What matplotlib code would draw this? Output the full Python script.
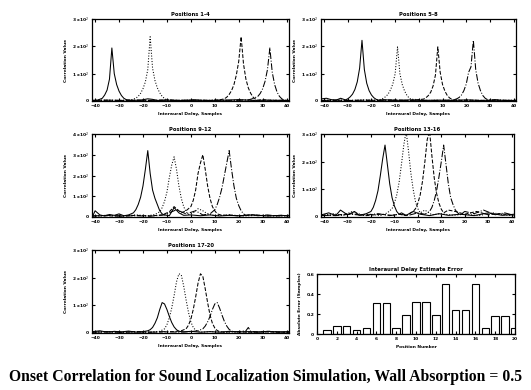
import numpy as np
import matplotlib.pyplot as plt

# ---- correlation curves (y in units of 10^2) ----
# Positions 1-4
p1_solid = ([-41, -39, -37, -36, -35, -34, -33, -32, -31, -30, -29, -28, -27, -25, -21, -18, -16, -14, -10, -4, 2, 8, 14, 20, 26, 32, 38, 41],
            [0.02, 0.03, 0.1, 0.22, 0.4, 0.8, 1.94, 1.0, 0.6, 0.36, 0.2, 0.1, 0.05, 0.02, 0.03, 0.08, 0.06, 0.02, 0.03, 0.02, 0.03, 0.02, 0.03, 0.05, 0.02, 0.03, 0.02, 0.02])
p1_dot = ([-41, -36, -30, -25, -23, -22, -21, -20, -19, -18, -17, -16, -15, -14, -13, -12, -11, -10, -7, -2, 4, 10, 16, 22, 28, 34, 41],
          [0.02, 0.03, 0.02, 0.04, 0.1, 0.17, 0.28, 0.45, 0.7, 1.15, 2.35, 1.2, 0.75, 0.48, 0.3, 0.17, 0.09, 0.04, 0.02, 0.03, 0.02, 0.03, 0.02, 0.04, 0.02, 0.03, 0.02])
p1_dash = ([-41, -34, -28, -22, -16, -10, -4, 2, 8, 12, 14, 15, 16, 17, 18, 19, 20, 21, 22, 23, 24, 25, 26, 27, 28, 30, 34, 38, 41],
           [0.02, 0.03, 0.02, 0.03, 0.02, 0.04, 0.02, 0.03, 0.02, 0.04, 0.08, 0.14, 0.24, 0.38, 0.6, 0.95, 1.45, 2.35, 1.35, 0.8, 0.48, 0.28, 0.14, 0.07, 0.03, 0.05, 0.02, 0.03, 0.02])
p1_dd = ([-41, -35, -29, -23, -17, -11, -5, 1, 7, 13, 19, 24, 26, 28, 29, 30, 31, 32, 33, 34, 35, 36, 37, 38, 39, 41],
         [0.02, 0.03, 0.02, 0.03, 0.02, 0.03, 0.02, 0.04, 0.02, 0.03, 0.02, 0.04, 0.09, 0.17, 0.28, 0.45, 0.72, 1.15, 1.94, 1.05, 0.6, 0.33, 0.17, 0.08, 0.03, 0.02])

# Positions 5-8
p2_solid = ([-41, -39, -37, -35, -33, -31, -30, -29, -28, -27, -26, -25, -24, -23, -22, -21, -20, -19, -18, -17, -15, -10, -4, 2, 8, 14, 20, 26, 32, 38, 41],
            [0.08, 0.1, 0.05, 0.03, 0.1, 0.04, 0.08, 0.15, 0.25, 0.42, 0.7, 1.2, 2.22, 1.15, 0.65, 0.38, 0.22, 0.12, 0.06, 0.03, 0.05, 0.02, 0.04, 0.02, 0.03, 0.02, 0.04, 0.02, 0.03, 0.02, 0.02])
p2_dot = ([-41, -35, -29, -23, -18, -16, -15, -14, -13, -12, -11, -10, -9, -8, -7, -6, -5, -4, -3, -2, -1, 2, 8, 14, 20, 26, 32, 38, 41],
          [0.02, 0.03, 0.02, 0.04, 0.03, 0.06, 0.1, 0.16, 0.25, 0.4, 0.62, 1.0, 1.98, 1.0, 0.6, 0.36, 0.2, 0.1, 0.05, 0.08, 0.03, 0.02, 0.03, 0.02, 0.03, 0.02, 0.03, 0.02, 0.02])
p2_dash = ([-41, -35, -29, -23, -17, -11, -5, 0, 2, 3, 4, 5, 6, 7, 8, 9, 10, 11, 12, 13, 14, 15, 16, 18, 22, 28, 34, 41],
           [0.02, 0.03, 0.02, 0.03, 0.02, 0.04, 0.02, 0.05, 0.07, 0.12, 0.2, 0.32, 0.55, 0.95, 1.98, 1.05, 0.6, 0.36, 0.2, 0.11, 0.06, 0.03, 0.05, 0.02, 0.03, 0.02, 0.03, 0.02])
p2_dd = ([-41, -35, -29, -23, -17, -11, -5, 1, 7, 12, 15, 16, 17, 18, 19, 20, 21, 22, 23, 24, 25, 26, 27, 28, 29, 30, 32, 36, 41],
         [0.02, 0.03, 0.02, 0.03, 0.02, 0.03, 0.02, 0.03, 0.02, 0.03, 0.05, 0.08, 0.13, 0.22, 0.38, 0.62, 1.05, 1.25, 2.22, 1.15, 0.65, 0.38, 0.2, 0.1, 0.05, 0.03, 0.05, 0.02, 0.03])

# Positions 9-12
p3_solid = ([-41, -40, -38, -36, -34, -32, -30, -28, -26, -24, -23, -22, -21, -20, -19, -18, -17, -16, -15, -14, -13, -12, -11, -9, -7, -5, -3, 0, 4, 8, 12, 16, 20, 26, 32, 38, 41],
            [0.05, 0.3, 0.1, 0.05, 0.12, 0.08, 0.15, 0.06, 0.1, 0.2, 0.35, 0.6, 0.95, 1.5, 2.3, 3.2, 2.1, 1.3, 0.9, 0.6, 0.3, 0.15, 0.1, 0.06, 0.45, 0.2, 0.08, 0.1, 0.06, 0.1, 0.05, 0.08, 0.06, 0.1, 0.05, 0.08, 0.05])
p3_dot = ([-41, -35, -29, -23, -18, -15, -13, -12, -11, -10, -9, -8, -7, -6, -5, -4, -3, -2, -1, 1, 3, 5, 7, 10, 16, 22, 28, 34, 41],
          [0.04, 0.08, 0.05, 0.1, 0.06, 0.12, 0.25, 0.45, 0.75, 1.2, 1.9, 2.5, 2.9, 2.3, 1.5, 0.9, 0.5, 0.25, 0.12, 0.2, 0.4, 0.3, 0.15, 0.06, 0.1, 0.05, 0.08, 0.05, 0.05])
p3_dash = ([-41, -35, -29, -23, -17, -12, -9, -7, -4, -2, 0, 1, 2, 3, 4, 5, 6, 7, 8, 9, 10, 11, 13, 16, 20, 26, 32, 38, 41],
           [0.05, 0.06, 0.04, 0.08, 0.05, 0.1, 0.25, 0.5, 0.2, 0.3, 0.5, 0.8, 1.3, 2.1, 2.6, 3.0, 2.3, 1.5, 0.9, 0.5, 0.3, 0.15, 0.08, 0.1, 0.05, 0.1, 0.06, 0.08, 0.05])
p3_dd = ([-41, -35, -29, -23, -17, -11, -6, -2, 2, 5, 8, 9, 10, 11, 12, 13, 14, 15, 16, 17, 18, 19, 20, 21, 22, 23, 25, 28, 32, 36, 41],
         [0.05, 0.08, 0.05, 0.06, 0.04, 0.1, 0.35, 0.15, 0.3, 0.1, 0.15, 0.25, 0.35, 0.6, 0.95, 1.4, 2.0, 2.6, 3.2, 2.3, 1.5, 0.9, 0.55, 0.3, 0.15, 0.08, 0.12, 0.06, 0.1, 0.05, 0.08])

# Positions 13-16
p4_solid = ([-41, -38, -35, -33, -30, -27, -25, -22, -20, -19, -18, -17, -16, -15, -14, -13, -12, -11, -10, -9, -8, -7, -5, -2, 1, 5, 9, 13, 18, 24, 30, 36, 41],
            [0.08, 0.15, 0.05, 0.25, 0.08, 0.2, 0.06, 0.12, 0.2, 0.35, 0.6, 0.95, 1.5, 2.1, 2.6, 1.9, 1.2, 0.7, 0.4, 0.2, 0.1, 0.15, 0.06, 0.2, 0.1, 0.05, 0.12, 0.06, 0.1, 0.05, 0.15, 0.06, 0.1])
p4_dot = ([-41, -36, -32, -28, -24, -20, -16, -13, -11, -10, -9, -8, -7, -6, -5, -4, -3, -2, -1, 0, 1, 3, 6, 10, 15, 20, 26, 32, 38, 41],
          [0.06, 0.12, 0.05, 0.2, 0.08, 0.1, 0.05, 0.15, 0.3, 0.5, 0.8, 1.25, 1.9, 2.6, 3.1, 2.4, 1.6, 1.0, 0.55, 0.3, 0.15, 0.25, 0.08, 0.12, 0.06, 0.1, 0.05, 0.15, 0.06, 0.05])
p4_dash = ([-41, -34, -28, -22, -16, -11, -8, -5, -2, -1, 0, 1, 2, 3, 4, 5, 6, 7, 8, 9, 10, 11, 13, 16, 20, 25, 30, 35, 41],
           [0.05, 0.08, 0.12, 0.05, 0.1, 0.06, 0.1, 0.05, 0.2, 0.3, 0.5, 0.8, 1.3, 2.0, 2.8, 3.1, 2.2, 1.4, 0.85, 0.5, 0.28, 0.15, 0.25, 0.2, 0.1, 0.2, 0.08, 0.12, 0.06])
p4_dd = ([-41, -35, -29, -23, -17, -12, -8, -4, 0, 3, 5, 6, 7, 8, 9, 10, 11, 12, 13, 14, 15, 16, 17, 18, 20, 24, 28, 33, 37, 41],
         [0.06, 0.05, 0.1, 0.06, 0.12, 0.05, 0.1, 0.06, 0.15, 0.1, 0.2, 0.35, 0.6, 0.95, 1.45, 2.0, 2.6, 1.9, 1.2, 0.7, 0.45, 0.25, 0.15, 0.08, 0.2, 0.12, 0.25, 0.08, 0.15, 0.06])

# Positions 17-20
p5_solid = ([-41, -38, -35, -32, -29, -26, -23, -20, -18, -17, -16, -15, -14, -13, -12, -11, -10, -9, -8, -7, -6, -5, -3, 0, 4, 8, 12, 16, 20, 24, 28, 32, 36, 41],
            [0.05, 0.08, 0.03, 0.06, 0.04, 0.07, 0.03, 0.05, 0.08, 0.12, 0.2, 0.35, 0.55, 0.85, 1.1, 1.05, 0.85, 0.6, 0.38, 0.22, 0.12, 0.06, 0.04, 0.06, 0.03, 0.05, 0.03, 0.06, 0.04, 0.05, 0.03, 0.06, 0.04, 0.05])
p5_dot = ([-41, -35, -29, -23, -17, -13, -11, -10, -9, -8, -7, -6, -5, -4, -3, -2, -1, 0, 1, 2, 3, 5, 8, 14, 20, 26, 32, 38, 41],
          [0.03, 0.05, 0.03, 0.04, 0.03, 0.06, 0.15, 0.3, 0.55, 0.9, 1.35, 1.85, 2.14, 2.1, 1.7, 1.2, 0.75, 0.4, 0.2, 0.1, 0.05, 0.03, 0.05, 0.03, 0.04, 0.03, 0.05, 0.03, 0.03])
p5_dash = ([-41, -35, -29, -23, -17, -11, -7, -4, -2, -1, 0, 1, 2, 3, 4, 5, 6, 7, 8, 9, 10, 11, 12, 14, 18, 24, 30, 36, 41],
           [0.03, 0.04, 0.03, 0.05, 0.03, 0.04, 0.05, 0.08, 0.15, 0.28, 0.5, 0.85, 1.3, 1.8, 2.14, 2.05, 1.6, 1.1, 0.65, 0.35, 0.18, 0.09, 0.05, 0.03, 0.05, 0.03, 0.04, 0.03, 0.03])
p5_dd = ([-41, -35, -29, -23, -17, -11, -5, 0, 3, 5, 6, 7, 8, 9, 10, 11, 12, 13, 14, 15, 16, 17, 18, 20, 23, 24, 25, 28, 33, 38, 41],
         [0.03, 0.05, 0.03, 0.04, 0.03, 0.05, 0.03, 0.05, 0.08, 0.15, 0.25, 0.4, 0.6, 0.85, 1.05, 1.1, 0.9, 0.65, 0.42, 0.25, 0.13, 0.07, 0.04, 0.05, 0.08, 0.2, 0.06, 0.04, 0.06, 0.03, 0.03])

panel_titles = ['Positions 1-4', 'Positions 5-8', 'Positions 9-12', 'Positions 13-16', 'Positions 17-20']
panel_curves = [[p1_solid, p1_dot, p1_dash, p1_dd],
                [p2_solid, p2_dot, p2_dash, p2_dd],
                [p3_solid, p3_dot, p3_dash, p3_dd],
                [p4_solid, p4_dot, p4_dash, p4_dd],
                [p5_solid, p5_dot, p5_dash, p5_dd]]
panel_ymax = [3, 3, 4, 3, 3]
lag_ticks = [-40, -30, -20, -10, 0, 10, 20, 30, 40]

# ---- error bars ----
positions = list(range(1, 21))
abs_error = [0.037, 0.077, 0.077, 0.037, 0.06, 0.307, 0.307, 0.06, 0.187, 0.317,
             0.317, 0.187, 0.497, 0.24, 0.24, 0.497, 0.06, 0.177, 0.177, 0.06]

W, H = 531, 390
fig = plt.figure(figsize=(W / 100, H / 100), dpi=100)
plt.rcParams['font.family'] = 'DejaVu Sans'


def px_axes(l, t, r, b):
    return fig.add_axes([l / W, 1 - b / H, (r - l) / W, (b - t) / H])


def style(ax):
    for s in ax.spines.values():
        s.set_linewidth(0.9)
    ax.tick_params(direction='in', length=2.5, width=0.8, labelsize=3.2,
                   pad=2, top=True, right=True)
    for lbl in ax.get_xticklabels() + ax.get_yticklabels():
        lbl.set_fontweight('bold')


boxes = [(92, 19, 289, 101), (321, 19, 516, 101),
         (92, 134, 289, 217), (321, 134, 514, 217),
         (92, 250, 289, 333)]
styles = ['-', ':', '--', '-.']

for box, title, curves, ymax in zip(boxes, panel_titles, panel_curves, panel_ymax):
    ax = px_axes(*box)
    for (xs, ys), ls in zip(curves, styles):
        ax.plot(xs, ys, color='black', linestyle=ls, linewidth=0.75)
    ax.set_xlim(-41.3, 41)
    ax.set_ylim(0, ymax)
    ax.set_xticks(lag_ticks)
    ax.set_yticks(range(ymax + 1))
    ax.set_yticklabels(['0'] + [r'%d x10$^2$' % k for k in range(1, ymax + 1)])
    ax.set_title(title, fontsize=3.8, fontweight='bold', pad=2)
    ax.set_xlabel('Interaural Delay, Samples', fontsize=3.2, fontweight='bold', labelpad=3)
    ax.set_ylabel('Correlation Value', fontsize=3.2, fontweight='bold', labelpad=3)
    style(ax)

bx = px_axes(317, 274, 515, 334)
bx.bar(positions, abs_error, width=0.75, facecolor='white', edgecolor='black', linewidth=0.8)
bx.set_xlim(0, 20)
bx.set_ylim(0, 0.6)
bx.set_xticks(range(0, 21, 2))
bx.set_yticks([0, 0.2, 0.4, 0.6])
bx.set_yticklabels(['0', '0.2', '0.4', '0.6'])
bx.set_title('Interaural Delay Estimate Error', fontsize=3.8, fontweight='bold', pad=2)
bx.set_xlabel('Position Number', fontsize=3.2, fontweight='bold', labelpad=3)
bx.set_ylabel('Absolute Error (Samples)', fontsize=3.2, fontweight='bold', labelpad=3)
style(bx)

fig.text(0.5, 1 - 377 / H, 'Onset Correlation for Sound Localization Simulation, Wall Absorption = 0.5',
         ha='center', va='center', fontsize=11.3, fontweight='bold', family='Liberation Serif')

fig.savefig('out.png', dpi=100, facecolor='white')
